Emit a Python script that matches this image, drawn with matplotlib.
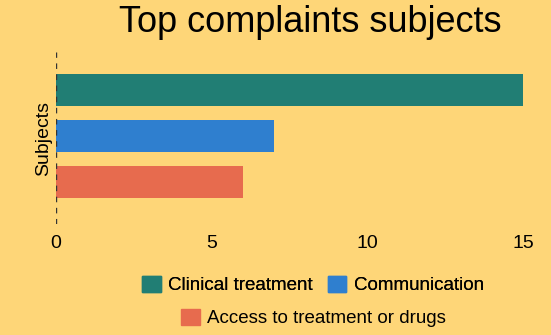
import matplotlib.pyplot as plt
from matplotlib.patches import Patch

plt.rcParams['font.family'] = ['Liberation Sans', 'DejaVu Sans']

subjects = ['Clinical treatment', 'Communication', 'Access to treatment or drugs']
counts = [15, 7, 6]
colors = ['#217e74', '#2f7fcf', '#e76b4e']
xticks = [0, 5, 10, 15]

bg = '#fed678'

fig = plt.figure(figsize=(5.51, 3.35), dpi=100, facecolor=bg)
ax = fig.add_axes([56/551, 1 - 224/335, (523 - 56)/551, (224 - 52)/335])
ax.set_facecolor(bg)

ypos = list(range(len(subjects)))
ax.barh(ypos, counts, height=0.7, color=colors, zorder=2)
ax.axvline(0, color='#333333', linestyle=(0, (4, 4)), linewidth=1, zorder=3)

ax.set_xlim(0, 15)
ax.set_ylim(2.913, -0.826)
ax.set_xticks(xticks)
ax.set_xticklabels([str(t) for t in xticks], fontsize=14)
ax.set_yticks([])
ax.tick_params(axis='x', length=0, pad=8)
for s in ax.spines.values():
    s.set_visible(False)
ax.set_ylabel('Subjects', fontsize=14, labelpad=3)

fig.text(0.563, 1 - 22/335, 'Top complaints subjects', fontsize=26, ha='center', va='center')

handles = [Patch(facecolor=c, edgecolor=c) for c in colors]
leg1 = fig.legend(handles[:2], subjects[:2], loc='center', bbox_to_anchor=(0.568, 1 - 285/335),
                  ncol=2, frameon=False, fontsize=13.5, handlelength=1.0, handleheight=1.0,
                  handletextpad=0.4, columnspacing=0.8)
fig.add_artist(leg1)
fig.legend(handles[2:], subjects[2:], loc='center', bbox_to_anchor=(0.569, 1 - 318/335),
           frameon=False, fontsize=13.5, handlelength=1.0, handleheight=1.0, handletextpad=0.4)

fig.savefig('out.png', dpi=100, facecolor=bg)
